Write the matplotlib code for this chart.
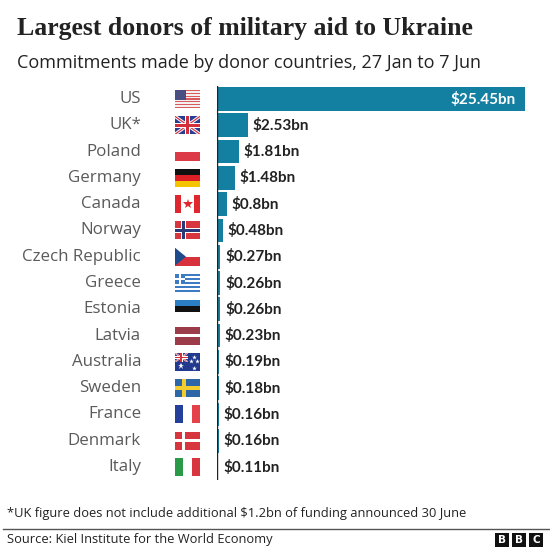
import numpy as np
import matplotlib
matplotlib.use("Agg")
import matplotlib.pyplot as plt
from matplotlib.patches import Rectangle, Polygon
from matplotlib.transforms import blended_transform_factory

countries = ["US", "UK*", "Poland", "Germany", "Canada", "Norway", "Czech Republic",
             "Greece", "Estonia", "Latvia", "Australia", "Sweden", "France",
             "Denmark", "Italy"]
values = [25.45, 2.53, 1.81, 1.48, 0.8, 0.48, 0.27, 0.26, 0.26, 0.23, 0.19,
          0.18, 0.16, 0.16, 0.11]
labels = ["$25.45bn", "$2.53bn", "$1.81bn", "$1.48bn", "$0.8bn", "$0.48bn",
          "$0.27bn", "$0.26bn", "$0.26bn", "$0.23bn", "$0.19bn", "$0.18bn",
          "$0.16bn", "$0.16bn", "$0.11bn"]
flags = ["us", "uk", "pl", "de", "ca", "no", "cz", "gr", "ee", "lv", "au",
         "se", "fr", "dk", "it"]

W, H = 550, 550
BAR = "#1380a1"
fig = plt.figure(figsize=(W / 100, H / 100), dpi=100)
fig.patch.set_facecolor("white")


def fx(px):
    return px / W


def fy(py):
    return 1 - py / H


# rows: centre of first row 99px, last 467px
n = len(countries)
step = (467 - 99) / (n - 1)
top, bot = 99 - step / 2, 467 + step / 2
ax = fig.add_axes([fx(217), fy(bot), fx(525 - 217), (bot - top) / H])
y = np.arange(n)
ax.barh(y, values, height=0.9, color=BAR)
ax.set_xlim(0, 25.45)
ax.set_ylim(n - 0.5, -0.5)
ax.axis("off")
ax.axvline(0, color="#222222", lw=1.0)

lab_tr = blended_transform_factory(fig.transFigure, ax.transData)
for i, (v, lab) in enumerate(zip(values, labels)):
    if i == 0:
        ax.text(v - 0.8, i, lab, ha="right", va="center", color="white",
                fontsize=11, fontweight="bold", family="Lato")
    else:
        ax.text(v + 0.4, i, lab, ha="left", va="center", color="#222222",
                fontsize=11, fontweight="bold", family="Lato")
    ax.text(fx(141), i, countries[i], transform=lab_tr, ha="right", va="center",
            color="#5a5a5a", fontsize=12.2, family="Open Sans")

# flags
fa = fig.add_axes([fx(175), fy(bot), fx(25), (bot - top) / H], sharey=ax)
fa.set_xlim(0, 1)
fa.axis("off")
FH = 0.68
PW, PH = 25.0, 18.0


def to_xy(yc, pts):
    return [(px / PW, yc - FH / 2 + py / PH * FH) for px, py in pts]


def rect(yc, x0, y0, x1, y1, c, clip=None):
    p = Rectangle((x0 / PW, yc - FH / 2 + y0 / PH * FH), (x1 - x0) / PW,
                  (y1 - y0) / PH * FH, facecolor=c, edgecolor="none", lw=0)
    fa.add_patch(p)
    if clip is not None:
        p.set_clip_path(clip)
    return p


def band(yc, p0, p1, t, c, clip):
    (x0, y0), (x1, y1) = p0, p1
    d = np.array([x1 - x0, y1 - y0], float)
    nrm = np.array([-d[1], d[0]]) / np.hypot(*d) * t / 2
    pts = [(x0 + nrm[0], y0 + nrm[1]), (x1 + nrm[0], y1 + nrm[1]),
           (x1 - nrm[0], y1 - nrm[1]), (x0 - nrm[0], y0 - nrm[1])]
    p = Polygon(to_xy(yc, pts), closed=True, facecolor=c, edgecolor="none")
    fa.add_patch(p)
    p.set_clip_path(clip)


def star(yc, px, py, s):
    x, yy = to_xy(yc, [(px, py)])[0]
    fa.plot(x, yy, marker="*", color="white", ms=s, mew=0)


def union(yc, w, h, clip):
    rect(yc, 0, 0, w, h, "#2a3d8f", clip)
    k = w / 25.0
    band(yc, (0, 0), (w, h), 3.2 * k, "white", clip)
    band(yc, (0, h), (w, 0), 3.2 * k, "white", clip)
    band(yc, (0, 0), (w, h), 1.2 * k, "#d4303c", clip)
    band(yc, (0, h), (w, 0), 1.2 * k, "#d4303c", clip)
    rect(yc, w / 2 - 2.8 * k, 0, w / 2 + 2.8 * k, h, "white", clip)
    rect(yc, 0, h / 2 - 2.8 * k, w, h / 2 + 2.8 * k, "white", clip)
    rect(yc, w / 2 - 1.6 * k, 0, w / 2 + 1.6 * k, h, "#d4303c", clip)
    rect(yc, 0, h / 2 - 1.6 * k, w, h / 2 + 1.6 * k, "#d4303c", clip)


def draw_flag(yc, kind):
    base = rect(yc, 0, 0, PW, PH, "white")
    if kind == "us":
        for s in range(13):
            rect(yc, 0, s * PH / 13, PW, (s + 1) * PH / 13,
                 "#d85a5f" if s % 2 == 0 else "#f4f0f0")
        rect(yc, 0, 0, 11, PH * 7 / 13, "#4a4f82")
    elif kind == "uk":
        union(yc, PW, PH, base)
    elif kind == "pl":
        rect(yc, 0, PH / 2, PW, PH, "#dd3a48")
    elif kind == "de":
        rect(yc, 0, 0, PW, PH / 3, "#111111")
        rect(yc, 0, PH / 3, PW, 2 * PH / 3, "#dd1f26")
        rect(yc, 0, 2 * PH / 3, PW, PH, "#f5c400")
    elif kind == "ca":
        rect(yc, 0, 0, PW / 4, PH, "#e0262e")
        rect(yc, 3 * PW / 4, 0, PW, PH, "#e0262e")
        x, yy = to_xy(yc, [(PW / 2, PH / 2)])[0]
        fa.plot(x, yy, marker="*", color="#e0262e", ms=7, mew=0)
    elif kind == "no":
        rect(yc, 0, 0, PW, PH, "#d8363f")
        rect(yc, 6, 0, 11, PH, "white")
        rect(yc, 0, 6.5, PW, 11.5, "white")
        rect(yc, 7.3, 0, 9.7, PH, "#283a78")
        rect(yc, 0, 7.8, PW, 10.2, "#283a78")
    elif kind == "cz":
        rect(yc, 0, PH / 2, PW, PH, "#d7323c")
        p = Polygon(to_xy(yc, [(0, 0), (11, PH / 2), (0, PH)]), closed=True,
                    facecolor="#1f4a8c", edgecolor="none")
        fa.add_patch(p)
    elif kind == "gr":
        for s in range(9):
            rect(yc, 0, s * PH / 9, PW, (s + 1) * PH / 9,
                 "#3d7cc4" if s % 2 == 0 else "white")
        rect(yc, 0, 0, 10, PH * 5 / 9, "#3d7cc4")
        rect(yc, 0, 2 * PH / 9, 10, 3 * PH / 9, "white")
        rect(yc, 4, 0, 6, PH * 5 / 9, "white")
    elif kind == "ee":
        rect(yc, 0, 0, PW, PH / 3, "#2c7ec4")
        rect(yc, 0, PH / 3, PW, 2 * PH / 3, "#111111")
    elif kind == "lv":
        rect(yc, 0, 0, PW, PH * 0.4, "#9c3b4a")
        rect(yc, 0, PH * 0.6, PW, PH, "#9c3b4a")
    elif kind == "au":
        rect(yc, 0, 0, PW, PH, "#223a8e")
        sub = Rectangle((0, yc - FH / 2), 12.5 / PW, FH * 0.5, transform=fa.transData)
        union(yc, 12.5, 9, sub)
        star(yc, 6.2, 13.5, 5)
        for px, py in [(19, 4), (15.5, 8.5), (22, 8), (19, 15)]:
            star(yc, px, py, 3.5)
    elif kind == "se":
        rect(yc, 0, 0, PW, PH, "#2d67a8")
        rect(yc, 7, 0, 10.5, PH, "#f3cc2d")
        rect(yc, 0, 7.2, PW, 10.8, "#f3cc2d")
    elif kind == "fr":
        rect(yc, 0, 0, PW / 3, PH, "#24409a")
        rect(yc, 2 * PW / 3, 0, PW, PH, "#e5414a")
    elif kind == "dk":
        rect(yc, 0, 0, PW, PH, "#d8363f")
        rect(yc, 7, 0, 10, PH, "white")
        rect(yc, 0, 7.5, PW, 10.5, "white")
    elif kind == "it":
        rect(yc, 0, 0, PW / 3, PH, "#2a9a48")
        rect(yc, 2 * PW / 3, 0, PW, PH, "#d8363f")


for i, k in enumerate(flags):
    draw_flag(i, k)

# titles
fig.text(fx(17), fy(28), "Largest donors of military aid to Ukraine",
         ha="left", va="center", fontsize=18.5, fontweight="bold",
         family="Liberation Serif", color="#222222")
fig.text(fx(17), fy(63), "Commitments made by donor countries, 27 Jan to 7 Jun",
         ha="left", va="center", fontsize=13, family="Open Sans", color="#222222")

# footer
fig.text(fx(7), fy(513), "*UK figure does not include additional $1.2bn of funding announced 30 June",
         ha="left", va="center", fontsize=9.3, family="Open Sans", color="#222222")
fig.add_artist(plt.Line2D([fx(3), fx(W)], [fy(529), fy(529)],
                          transform=fig.transFigure, color="#555555", lw=1))
fig.text(fx(7), fy(540), "Source: Kiel Institute for the World Economy",
         ha="left", va="center", fontsize=9.3, family="Open Sans", color="#222222")
for j, ch in enumerate("BBC"):
    x0 = 495 + j * 17
    fig.add_artist(Rectangle((fx(x0), fy(547)), fx(14), 14 / H,
                             transform=fig.transFigure, facecolor="#111111",
                             edgecolor="none"))
    fig.text(fx(x0 + 7), fy(540), ch, ha="center", va="center", fontsize=7.5,
             fontweight="bold", color="white", family="DejaVu Sans")

fig.savefig("out.png", dpi=100, facecolor="white")
